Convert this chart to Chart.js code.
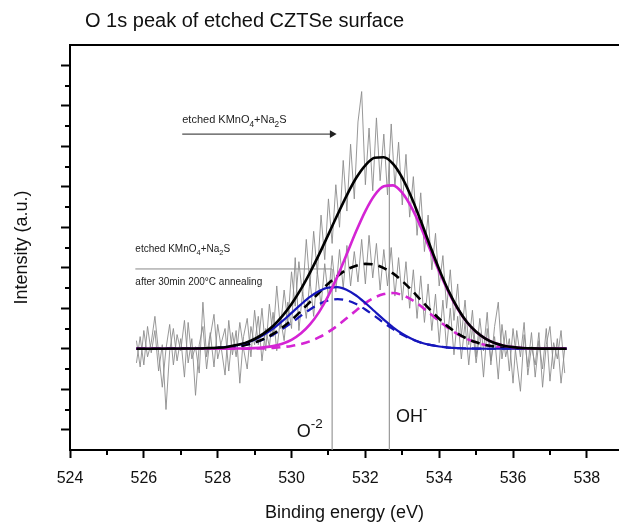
<!DOCTYPE html>
<html>
<head>
<meta charset="utf-8">
<script src="https://cdn.jsdelivr.net/npm/chart.js@4.4.0/dist/chart.umd.min.js"></script>
<style>
  html, body { margin: 0; padding: 0; background: #fff; }
</style>
</head>
<body>
<canvas id="xps" width="619" height="531"></canvas>
<script>
const FONT = '"Liberation Sans", Arial, sans-serif';

const chartTitle = 'O 1s peak of etched CZTSe surface';
const xTicks = [524, 526, 528, 530, 532, 534, 536, 538];
const xMinorTicks = [525, 527, 529, 531, 533, 535, 537];
const yTicks = [1, 3, 5, 7, 9, 11, 13, 15, 17, 19];
const yMinorTicks = [2, 4, 6, 8, 10, 12, 14, 16, 18];

// raw spectra (gray, noisy)
const rawEnergy = [
  525.8, 525.9, 526.0, 526.1, 526.2, 526.3, 526.4, 526.5, 526.6, 526.7,
  526.8, 526.9, 527.0, 527.1, 527.2, 527.3, 527.4, 527.5, 527.6, 527.7,
  527.8, 527.9, 528.0, 528.1, 528.2, 528.3, 528.4, 528.5, 528.6, 528.7,
  528.8, 528.9, 529.0, 529.1, 529.2, 529.3, 529.4, 529.5, 529.6, 529.7,
  529.8, 529.9, 530.0, 530.1, 530.2, 530.3, 530.4, 530.5, 530.6, 530.7,
  530.8, 530.9, 531.0, 531.1, 531.2, 531.3, 531.4, 531.5, 531.6, 531.7,
  531.8, 531.9, 532.0, 532.1, 532.2, 532.3, 532.4, 532.5, 532.6, 532.7,
  532.8, 532.9, 533.0, 533.1, 533.2, 533.3, 533.4, 533.5, 533.6, 533.7,
  533.8, 533.9, 534.0, 534.1, 534.2, 534.3, 534.4, 534.5, 534.6, 534.7,
  534.8, 534.9, 535.0, 535.1, 535.2, 535.3, 535.4, 535.5, 535.6, 535.7,
  535.8, 535.9, 536.0, 536.1, 536.2, 536.3, 536.4, 536.5, 536.6, 536.7,
  536.8, 536.9, 537.0, 537.1, 537.2, 537.3, 537.4
];
const rawEtched = [
  4.3, 5.6, 4.2, 6.1, 4.8, 5.9, 3.9, 5.2, 2.0, 4.9,
  6.0, 4.4, 5.5, 3.6, 6.3, 4.5, 5.1, 3.8, 7.3, 4.6,
  5.8, 4.1, 6.2, 5.0, 3.7, 6.4, 4.7, 5.9, 3.3, 5.6,
  6.5, 4.6, 6.9, 5.2, 7.0, 4.9, 7.2, 5.6, 8.1, 6.0,
  7.9, 6.3, 8.8, 7.1, 9.3, 7.6, 10.4, 8.1, 10.8, 8.7,
  11.6, 9.4, 12.4, 10.2, 13.1, 11.0, 14.3, 11.8, 15.1, 12.4,
  16.2, 17.7, 13.1, 15.9, 12.8, 16.4, 13.3, 15.6, 12.6, 16.1,
  13.0, 15.2, 12.1, 14.6, 11.5, 13.5, 10.6, 12.7, 9.8, 11.6,
  8.9, 10.7, 8.1, 9.6, 7.0, 8.9, 6.4, 8.2, 5.6, 7.4,
  5.2, 6.9, 4.6, 6.5, 4.9, 6.8, 4.2, 6.1, 7.3, 4.5,
  5.9, 3.9, 6.0, 4.4, 2.9, 5.7, 4.1, 5.8, 3.6, 5.4,
  4.0, 6.0, 3.4, 5.3, 4.5, 5.9, 3.8
];
const rawAnnealed = [
  5.4, 4.1, 5.9, 4.6, 5.3, 6.6, 4.8, 3.1, 5.0, 6.2,
  4.2, 5.7, 4.9, 6.4, 4.3, 5.5, 2.7, 5.2, 6.1, 4.0,
  5.6, 6.7, 4.5, 5.3, 6.0, 3.9, 5.8, 4.6, 6.3, 5.0,
  4.0, 6.1, 5.2, 6.6, 4.4, 6.0, 5.1, 6.8, 4.9, 6.5,
  5.4, 7.3, 6.0, 9.5, 5.9, 7.8, 6.5, 8.4, 6.6, 8.8,
  7.1, 9.2, 7.5, 9.6, 7.8, 9.9, 8.0, 10.1, 8.1, 9.8,
  8.3, 10.4, 8.2, 10.6, 8.5, 10.2, 7.9, 9.9, 8.1, 10.0,
  7.6, 9.5, 7.4, 9.3, 7.0, 8.9, 6.5, 8.6, 6.3, 8.2,
  5.9, 7.7, 5.3, 7.4, 5.0, 7.0, 4.7, 6.6, 4.5, 6.3,
  4.2, 6.1, 4.3, 5.8, 3.6, 6.0, 4.4, 5.6, 3.5, 6.2,
  4.6, 5.5, 3.3, 5.9, 4.6, 6.3, 3.7, 5.1, 4.2, 5.8,
  3.1, 5.2, 6.1, 4.0, 5.5, 3.3, 5.0
];

// fitted components
const fitEnergy = [
  525.8,
  527.5, 527.75, 528.0, 528.25, 528.5, 528.75, 529.0, 529.25, 529.5, 529.75,
  530.0, 530.25, 530.5, 530.75, 531.0, 531.25, 531.5, 531.75, 532.0, 532.25,
  532.5, 532.75, 533.0, 533.25, 533.5, 533.75, 534.0, 534.25, 534.5, 534.75,
  535.0, 535.25, 535.5, 535.75, 536.0, 536.25, 536.5,
  537.45
];
const fitEtchedTotal = [
  5.00,
  5.01, 5.03, 5.05, 5.09, 5.18, 5.29, 5.48, 5.76, 6.12, 6.61,
  7.21, 7.93, 8.76, 9.67, 10.65, 11.64, 12.59, 13.43, 14.06, 14.43,
  14.46, 14.13, 13.44, 12.47, 11.32, 10.10, 8.92, 7.87, 7.00, 6.32,
  5.84, 5.50, 5.28, 5.15, 5.08, 5.04, 5.02,
  5.00
];
const fitEtchedOH = [
  5.00,
  5.00, 5.00, 5.00, 5.00, 5.01, 5.01, 5.03, 5.07, 5.13, 5.25,
  5.44, 5.75, 6.20, 6.82, 7.63, 8.60, 9.69, 10.80, 11.80, 12.58,
  13.02, 13.07, 12.70, 11.98, 11.01, 9.91, 8.81, 7.81, 6.97, 6.31,
  5.83, 5.50, 5.28, 5.15, 5.08, 5.04, 5.02,
  5.00
];
const fitEtchedO2 = [
  5.00,
  5.01, 5.03, 5.05, 5.09, 5.17, 5.28, 5.45, 5.69, 5.99, 6.36,
  6.77, 7.18, 7.56, 7.85, 8.02, 8.04, 7.90, 7.63, 7.26, 6.85,
  6.44, 6.06, 5.74, 5.49, 5.31, 5.19, 5.11, 5.06, 5.03, 5.01,
  5.01, 5.00, 5.00, 5.00, 5.00, 5.00, 5.00,
  5.00
];
const fitAnnealedTotal = [
  5.00,
  5.01, 5.02, 5.03, 5.06, 5.11, 5.19, 5.31, 5.49, 5.73, 6.05,
  6.42, 6.85, 7.31, 7.78, 8.22, 8.60, 8.91, 9.10, 9.19, 9.15,
  8.98, 8.72, 8.34, 7.90, 7.41, 6.93, 6.48, 6.08, 5.75, 5.50,
  5.32, 5.19, 5.11, 5.06, 5.03, 5.02, 5.01,
  5.00
];
const fitAnnealedOH = [
  5.00,
  5.00, 5.00, 5.00, 5.00, 5.00, 5.00, 5.01, 5.02, 5.04, 5.08,
  5.14, 5.23, 5.37, 5.57, 5.83, 6.15, 6.52, 6.89, 7.25, 7.53,
  7.70, 7.75, 7.65, 7.43, 7.11, 6.74, 6.37, 6.02, 5.72, 5.48,
  5.31, 5.19, 5.11, 5.06, 5.03, 5.02, 5.01,
  5.00
];
const fitAnnealedO2 = [
  5.00,
  5.01, 5.02, 5.03, 5.06, 5.11, 5.19, 5.30, 5.47, 5.69, 5.97,
  6.28, 6.62, 6.94, 7.21, 7.39, 7.45, 7.39, 7.21, 6.94, 6.62,
  6.28, 5.97, 5.69, 5.47, 5.30, 5.19, 5.11, 5.06, 5.03, 5.02,
  5.01, 5.00, 5.00, 5.00, 5.00, 5.00, 5.00,
  5.00
];

// peak markers
const peakO2 = 531.1;
const peakOH = 532.65;

const MAGENTA = '#d424d4';
const BLUE = '#1616bc';
const GRAY = '#8c8c8c';

function pts(xs, ys) {
  return xs.map((x, i) => ({ x: x, y: ys[i] }));
}

function fitLine(data, color, width, dashed) {
  return {
    data: data,
    borderColor: color,
    borderWidth: width,
    borderDash: dashed ? [9, 6] : [],
    cubicInterpolationMode: 'monotone',
    pointRadius: 0,
    fill: false
  };
}

const datasets = [
  fitLine(pts(fitEnergy, fitEtchedTotal), '#000', 2.6, false),
  fitLine(pts(fitEnergy, fitEtchedOH), MAGENTA, 2.6, false),
  fitLine(pts(fitEnergy, fitEtchedO2), BLUE, 2.2, false),
  fitLine(pts(fitEnergy, fitAnnealedTotal), '#000', 2.6, true),
  fitLine(pts(fitEnergy, fitAnnealedOH), MAGENTA, 2.6, true),
  fitLine(pts(fitEnergy, fitAnnealedO2), BLUE, 2.2, true),
  { data: pts(rawEnergy, rawEtched), borderColor: GRAY, borderWidth: 0.9, tension: 0, pointRadius: 0 },
  { data: pts(rawEnergy, rawAnnealed), borderColor: GRAY, borderWidth: 0.9, tension: 0, pointRadius: 0 },
  // peak position markers
  { data: [{ x: peakO2, y: 0 }, { x: peakO2, y: 8.94 }], borderColor: '#999', borderWidth: 1.2, pointRadius: 0 },
  { data: [{ x: peakOH, y: 0 }, { x: peakOH, y: 14.6 }], borderColor: '#999', borderWidth: 1.2, pointRadius: 0 },
  // separator line of the second label
  { data: [{ x: 525.77, y: 8.94 }, { x: peakO2, y: 8.94 }], borderColor: '#888', borderWidth: 1, pointRadius: 0 },
  // arrow of the first label
  { data: [{ x: 527.04, y: 15.6 }, { x: 531.1, y: 15.6 }], borderColor: '#222', borderWidth: 1,
    pointRadius: [0, 4.5], pointStyle: 'triangle', rotation: 90,
    pointBackgroundColor: '#222', pointBorderColor: '#222', pointBorderWidth: 0 }
];

function richText(ctx, parts, x0, y0, size) {
  let cx = x0;
  parts.forEach(function (p) {
    const kind = p[1];
    const s = kind ? size * 0.75 : size;
    const dy = kind === 'sub' ? size * 0.4 : (kind === 'sup' ? -size * 0.42 : 0);
    ctx.font = s + 'px ' + FONT;
    ctx.fillText(p[0], cx, y0 + dy);
    cx += ctx.measureText(p[0]).width;
  });
}

const decorPlugin = {
  id: 'decor',
  afterDraw(chart) {
    const { ctx, chartArea, scales } = chart;
    const { x, y } = scales;
    ctx.save();

    // top frame
    ctx.strokeStyle = '#000';
    ctx.lineWidth = 2;
    ctx.beginPath();
    ctx.moveTo(chartArea.left - 1, chartArea.top);
    ctx.lineTo(chartArea.right, chartArea.top);
    ctx.stroke();

    // minor ticks
    ctx.beginPath();
    xMinorTicks.forEach(function (v) {
      const px = Math.round(x.getPixelForValue(v));
      ctx.moveTo(px, chartArea.bottom);
      ctx.lineTo(px, chartArea.bottom + 5);
    });
    yMinorTicks.forEach(function (v) {
      const py = Math.round(y.getPixelForValue(v));
      ctx.moveTo(chartArea.left, py);
      ctx.lineTo(chartArea.left - 5, py);
    });
    ctx.stroke();

    // title
    ctx.fillStyle = '#111';
    ctx.textBaseline = 'middle';
    ctx.font = '20px ' + FONT;
    ctx.fillText(chartTitle, 85, 21);

    // labels
    ctx.fillStyle = '#222';
    richText(ctx, [['etched KMnO'], ['4', 'sub'], ['+Na'], ['2', 'sub'], ['S']],
      x.getPixelForValue(527.04), y.getPixelForValue(16.3), 11);
    richText(ctx, [['etched KMnO'], ['4', 'sub'], ['+Na'], ['2', 'sub'], ['S']],
      x.getPixelForValue(525.77), y.getPixelForValue(9.93), 10);
    richText(ctx, [['after 30min 200°C annealing']],
      x.getPixelForValue(525.77), y.getPixelForValue(8.3), 10);

    ctx.fillStyle = '#111';
    richText(ctx, [['O'], ['-2', 'sup']], x.getPixelForValue(530.14), y.getPixelForValue(0.9), 18);
    richText(ctx, [['OH'], ['-', 'sup']], x.getPixelForValue(532.83), y.getPixelForValue(1.63), 18);

    ctx.restore();
  }
};

new Chart(document.getElementById('xps'), {
  type: 'line',
  data: { datasets: datasets },
  options: {
    responsive: false,
    animation: false,
    layout: { autoPadding: false, padding: { top: 45, right: 0, bottom: 0, left: 0 } },
    plugins: { legend: { display: false }, tooltip: { enabled: false } },
    scales: {
      x: {
        type: 'linear',
        min: 524,
        max: 538.87,
        afterBuildTicks: function (scale) { scale.ticks = xTicks.map(function (v) { return { value: v }; }); },
        afterFit: function (scale) { scale.height = 81; scale.paddingLeft = 0; scale.paddingRight = 0; },
        border: { display: true, color: '#000', width: 2 },
        grid: { drawOnChartArea: false, drawTicks: true, tickLength: 8, tickWidth: 2, tickColor: '#000' },
        ticks: { color: '#111', font: { family: FONT, size: 16 }, padding: 11, maxRotation: 0, autoSkip: false },
        title: { display: true, text: 'Binding energy (eV)', color: '#111', font: { family: FONT, size: 18 }, padding: { top: 0, bottom: 7 } }
      },
      y: {
        type: 'linear',
        min: 0,
        max: 20,
        afterBuildTicks: function (scale) { scale.ticks = yTicks.map(function (v) { return { value: v }; }); },
        afterFit: function (scale) { scale.width = 70; scale.paddingTop = 0; scale.paddingBottom = 0; },
        border: { display: true, color: '#000', width: 2 },
        grid: { drawOnChartArea: false, drawTicks: true, tickLength: 9, tickWidth: 2, tickColor: '#000' },
        ticks: { callback: function () { return ''; } },
        title: { display: true, text: 'Intensity (a.u.)', color: '#111', font: { family: FONT, size: 18 }, padding: { top: 11, bottom: 0 } }
      }
    }
  },
  plugins: [decorPlugin]
});
</script>
</body>
</html>
